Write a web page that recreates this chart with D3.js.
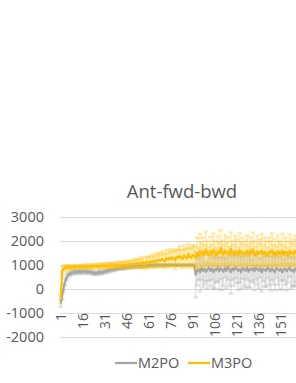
<!DOCTYPE html>
<html>
<head>
<meta charset="utf-8">
<script src="https://cdn.jsdelivr.net/npm/d3@7"></script>
<style>
  html, body { margin: 0; padding: 0; background: #ffffff; }
  svg { display: block; }
</style>
</head>
<body>
<svg id="chart" width="296" height="383"></svg>
<script>
const title = "Ant-fwd-bwd";
const seriesNames = ["M2PO", "M3PO"];
const yTicks = [-2000, -1000, 0, 1000, 2000, 3000];
const xTickLabels = ["1", "16", "31", "46", "61", "76", "91", "106", "121", "136", "151"];

const m2poMean = [
  -600,-250,50,300,480,580,630,660,680,700,
  710,700,720,730,700,720,740,710,730,720,
  700,690,680,660,650,670,690,700,680,710,
  720,740,760,770,790,800,810,830,840,850,
  860,870,880,870,890,900,910,900,920,930,
  930,940,950,940,960,950,960,970,960,970,
  980,970,990,980,990,1000,990,1000,1000,990,
  1000,1000,1000,1000,1000,1000,1000,1000,1000,1000,
  1000,1000,1000,1000,1000,1000,1000,1000,1000,1000,
  1000,1000,
  600,750,820,700,880,760,840,720,
  800,900,760,850,700,820,780,900,740,860,
  800,720,880,760,940,820,700,860,780,900,
  840,760,820,700,880,800,760,900,720,840,
  780,860,740,900,820,760,880,700,840,800,
  760,900,820,740,860,780,700,880,820,760,
  840,700,800,860,740,820,900,760,800,720,
  860,780,840,700,820,760,880,800,740,820
];
const m2poErr = [
  150,200,200,150,120,100,80,80,70,70,
  60,70,60,80,60,70,60,80,70,60,
  70,60,80,70,60,70,80,60,70,60,
  60,70,60,70,60,50,60,70,60,50,
  60,50,60,70,50,60,50,60,50,60,
  50,60,50,40,50,60,50,40,50,40,
  40,50,40,30,40,30,40,30,30,30,
  30,30,20,30,20,30,20,20,20,20,
  20,20,20,20,20,20,20,20,20,20,
  20,20,
  950,600,450,800,500,700,650,400,
  800,550,650,450,700,800,500,600,750,450,
  850,600,400,750,550,700,900,500,650,450,
  600,800,550,700,450,680,720,500,650,800,
  450,600,800,500,650,750,400,800,520,700,
  680,450,650,800,500,600,750,420,650,800,
  500,720,450,680,800,550,400,750,700,600,
  750,480,700,800,450,720,500,750,680,550
];
const m3poMean = [
  -400,750,850,880,900,900,910,900,910,920,
  910,920,920,930,920,930,930,940,930,940,
  940,950,940,950,950,960,950,960,960,970,
  960,970,980,970,980,990,980,1000,990,1000,
  1000,1010,1000,1020,1010,1030,1020,1040,1030,1050,
  1040,1060,1080,1050,1100,1070,1120,1000,1100,1130,
  1100,1150,1120,1180,1100,1200,1160,1220,1180,1250,
  1200,1150,1280,1220,1300,1240,1320,1260,1200,1350,
  1280,1380,1300,1250,1400,1320,1280,1450,1350,1300,
  1420,1380,
  1300,1500,1380,1600,1450,1550,1420,1650,1500,1400,
  1580,1450,1620,1500,1380,1550,1480,1700,1520,1430,
  1600,1480,1550,1420,1680,1500,1450,1580,1520,1400,
  1620,1480,1550,1450,1500,1600,1420,1560,1480,1650,
  1500,1400,1580,1460,1520,1600,1440,1550,1480,1380,
  1560,1500,1620,1450,1530,1400,1580,1500,1460,1600,
  1420,1550,1500,1380,1600,1480,1520,1440,1580,1500,
  1450,1620,1480,1530,1400,1560,1500,1470
];
const m3poErr = [
  200,150,120,100,90,80,80,80,70,80,
  70,80,70,60,80,70,80,70,80,70,
  80,70,90,80,70,90,80,90,80,100,
  90,100,80,110,90,100,120,90,110,100,
  120,110,130,100,140,120,150,130,140,160,
  150,170,160,180,200,170,220,180,200,220,
  200,240,220,260,230,280,250,300,260,320,
  280,300,340,280,360,300,340,320,380,300,
  360,400,340,380,420,360,400,440,380,420,
  400,450,
  450,650,350,700,450,600,400,750,500,350,
  600,400,700,500,350,650,450,750,500,400,
  650,450,600,350,700,500,400,650,550,350,
  700,450,600,400,500,650,380,600,450,700,
  500,380,650,450,550,700,400,600,500,350,
  600,500,700,400,550,380,650,500,420,700,
  380,600,500,350,680,450,550,400,650,500,
  420,700,450,580,380,650,500,450
];

const categories = m2poMean.map((d, i) => String(i + 1));
const series = [
  { name: seriesNames[0], mean: m2poMean, err: m2poErr, color: "#A5A5A5" },
  { name: seriesNames[1], mean: m3poMean, err: m3poErr, color: "#FFC000" }
];

const svg = d3.select("#chart");
const plotLeft = 60;
const bandW = 1.4667;
const x = d3.scaleBand().domain(categories).range([plotLeft, plotLeft + categories.length * bandW]).padding(0);
const y = d3.scaleLinear().domain([-2000, 3000]).range([337, 217]);
const cx = c => x(c) + x.bandwidth() / 2;
const font = "Open Sans, sans-serif";

// title
svg.append("text")
  .attr("x", 182).attr("y", 198)
  .attr("text-anchor", "middle")
  .attr("font-family", font)
  .attr("font-size", 18.5)
  .attr("fill", "#595959")
  .text(title);

// gridlines
svg.append("g").selectAll("line").data(yTicks).join("line")
  .attr("x1", plotLeft).attr("x2", 400)
  .attr("y1", d => Math.round(y(d)) + 0.5).attr("y2", d => Math.round(y(d)) + 0.5)
  .attr("stroke", "#D9D9D9").attr("stroke-width", 1);

// y axis labels
svg.append("g").selectAll("text").data(yTicks).join("text")
  .attr("x", 44).attr("y", d => y(d))
  .attr("dy", "0.36em")
  .attr("text-anchor", "end")
  .attr("font-family", font)
  .attr("font-size", 14.5)
  .attr("fill", "#595959")
  .text(d => d);

// x axis labels
svg.append("g").selectAll("text").data(xTickLabels).join("text")
  .attr("transform", d => `translate(${cx(d)},313) rotate(-90)`)
  .attr("dy", "0.36em")
  .attr("text-anchor", "end")
  .attr("font-family", font)
  .attr("font-size", 14)
  .attr("fill", "#595959")
  .text(d => d);

// series
series.forEach(s => {
  const g = svg.append("g");
  const pts = categories.map((c, i) => ({ c, m: s.mean[i], e: s.err[i] }));
  g.append("g").selectAll("line").data(pts).join("line")
    .attr("x1", d => cx(d.c)).attr("x2", d => cx(d.c))
    .attr("y1", d => y(d.m - d.e)).attr("y2", d => y(d.m + d.e))
    .attr("stroke", s.color).attr("stroke-opacity", 0.25).attr("stroke-width", 2);
  g.append("g").selectAll("path").data(pts).join("path")
    .attr("d", d => `M${cx(d.c) - 2.5},${y(d.m + d.e)}h5M${cx(d.c) - 2.5},${y(d.m - d.e)}h5`)
    .attr("stroke", s.color).attr("stroke-opacity", 0.25).attr("stroke-width", 2.5);
  const line = d3.line().x(d => cx(d.c)).y(d => y(d.m));
  g.append("path").datum(pts)
    .attr("d", line)
    .attr("fill", "none")
    .attr("stroke", s.color)
    .attr("stroke-width", 2.25)
    .attr("stroke-linejoin", "round");
});

// legend
const legendItems = [
  { name: seriesNames[0], color: "#A5A5A5", x: 115 },
  { name: seriesNames[1], color: "#FFC000", x: 188 }
];
const lg = svg.append("g");
legendItems.forEach(it => {
  lg.append("line")
    .attr("x1", it.x).attr("x2", it.x + 22)
    .attr("y1", 363).attr("y2", 363)
    .attr("stroke", it.color).attr("stroke-width", 2.25);
  lg.append("text")
    .attr("x", it.x + 23).attr("y", 363)
    .attr("dy", "0.36em")
    .attr("font-family", font)
    .attr("font-size", 14.5)
    .attr("fill", "#595959")
    .text(it.name);
});
</script>
</body>
</html>
